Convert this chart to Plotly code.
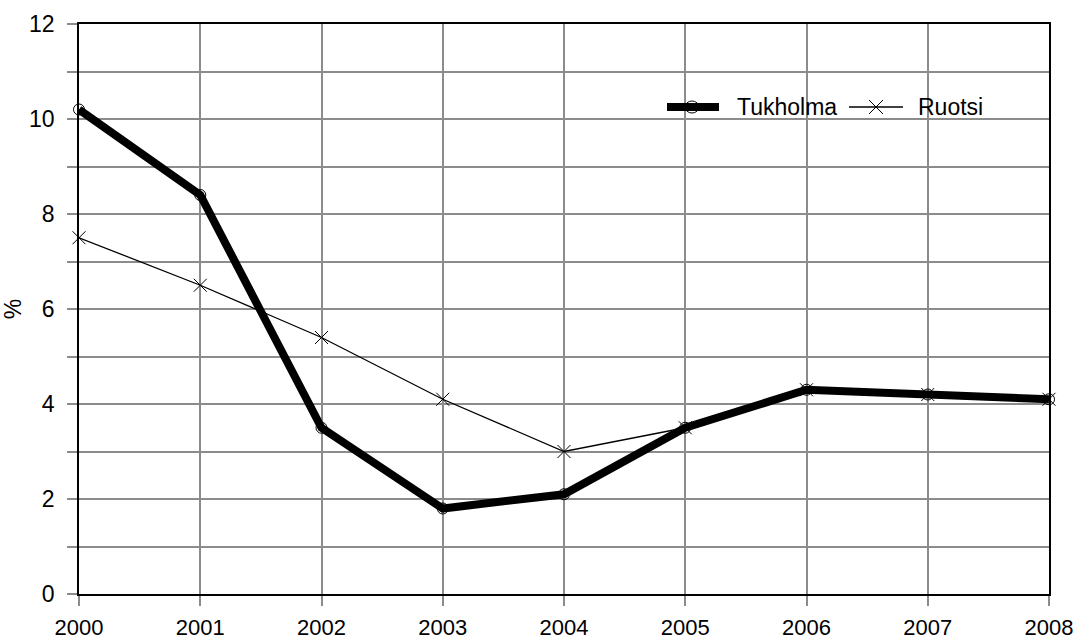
import plotly.graph_objects as go

years = [2000, 2001, 2002, 2003, 2004, 2005, 2006, 2007, 2008]
tukholma = [10.2, 8.4, 3.5, 1.8, 2.1, 3.5, 4.3, 4.2, 4.1]
ruotsi = [7.5, 6.5, 5.4, 4.1, 3.0, 3.5, 4.3, 4.2, 4.1]
y_ticks = [0, 2, 4, 6, 8, 10, 12]
series_names = ["Tukholma", "Ruotsi"]

FONT = "Liberation Sans, Arial, sans-serif"
GRID = "#8c8c8c"
W, H = 1076, 641
M = dict(l=79, r=27, t=24, b=47)
PW = W - M["l"] - M["r"]
PH = H - M["t"] - M["b"]


def px_x(px):
    return (px - M["l"]) / PW


def px_y(py):
    return (H - M["b"] - py) / PH


fig = go.Figure()

fig.add_trace(go.Scatter(
    x=years, y=tukholma, name=series_names[0], mode="lines+markers",
    line=dict(color="black", width=8),
    marker=dict(symbol="circle-open", size=11, color="black",
                line=dict(color="black", width=1)),
    cliponaxis=False, showlegend=False,
))
fig.add_trace(go.Scatter(
    x=years, y=ruotsi, name=series_names[1], mode="lines+markers",
    line=dict(color="black", width=1.3),
    marker=dict(symbol="x-thin-open", size=13, color="black",
                line=dict(color="black", width=1)),
    cliponaxis=False, showlegend=False,
))

# legend drawn by hand: long line samples with their marker glyphs
shapes = []
annotations = []
ly = px_y(107)
# Tukholma entry
shapes.append(dict(type="line", xref="paper", yref="paper",
                   x0=px_x(667), x1=px_x(719), y0=ly, y1=ly,
                   line=dict(color="black", width=8)))
shapes.append(dict(type="circle", xref="paper", yref="paper",
                   x0=px_x(685), x1=px_x(699), y0=px_y(101), y1=px_y(113),
                   line=dict(color="black", width=1)))
annotations.append(dict(text=series_names[0], xref="paper", yref="paper",
                        x=px_x(735), y=ly, xanchor="left", yanchor="middle",
                        showarrow=False, font=dict(size=23)))
# Ruotsi entry
shapes.append(dict(type="line", xref="paper", yref="paper",
                   x0=px_x(849), x1=px_x(903), y0=ly, y1=ly,
                   line=dict(color="black", width=1.3)))
shapes.append(dict(type="line", xref="paper", yref="paper",
                   x0=px_x(869), x1=px_x(883), y0=px_y(100), y1=px_y(114),
                   line=dict(color="black", width=1)))
shapes.append(dict(type="line", xref="paper", yref="paper",
                   x0=px_x(869), x1=px_x(883), y0=px_y(114), y1=px_y(100),
                   line=dict(color="black", width=1)))
annotations.append(dict(text=series_names[1], xref="paper", yref="paper",
                        x=px_x(916), y=ly, xanchor="left", yanchor="middle",
                        showarrow=False, font=dict(size=23)))

fig.update_layout(
    width=W, height=H,
    margin=dict(M, autoexpand=False),
    paper_bgcolor="white", plot_bgcolor="white",
    font=dict(family=FONT, size=23, color="black"),
    showlegend=False,
    shapes=shapes,
    annotations=annotations,
    xaxis=dict(
        range=[2000, 2008], tickmode="array", tickvals=years,
        ticktext=[str(y) for y in years], automargin=False,
        showgrid=True, gridcolor=GRID, gridwidth=1.5,
        showline=True, linecolor="black", linewidth=1.5, mirror=True,
        ticks="outside", ticklen=10, tickcolor=GRID, tickwidth=1.5,
        zeroline=False, tickfont=dict(size=22), ticklabelstandoff=3,
    ),
    yaxis=dict(
        range=[0, 12], tickmode="array", tickvals=y_ticks, automargin=False,
        showgrid=True, gridcolor=GRID, gridwidth=1.5,
        minor=dict(dtick=1, showgrid=True, gridcolor=GRID, gridwidth=1.5,
                   ticks="outside", ticklen=10, tickcolor=GRID, tickwidth=1.5),
        showline=True, linecolor="black", linewidth=1.5, mirror=True,
        ticks="outside", ticklen=10, tickcolor=GRID, tickwidth=1.5,
        zeroline=False, tickfont=dict(size=23), ticklabelstandoff=8,
        title=dict(text="%", font=dict(size=23), standoff=10),
    ),
    # inner halves of the crossing tick marks
    xaxis2=dict(
        overlaying="x", anchor="y", range=[2000, 2008], tickmode="array",
        tickvals=years, showticklabels=False, showgrid=False, showline=False,
        ticks="inside", ticklen=10, tickcolor=GRID, tickwidth=1.5,
        zeroline=False, automargin=False,
    ),
    yaxis2=dict(
        overlaying="y", anchor="x", range=[0, 12], tickmode="array",
        tickvals=list(range(0, 13)), showticklabels=False, showgrid=False,
        showline=False, ticks="inside", ticklen=10, tickcolor=GRID,
        tickwidth=1.5, zeroline=False, automargin=False,
    ),
)

fig.write_html("out.html")
